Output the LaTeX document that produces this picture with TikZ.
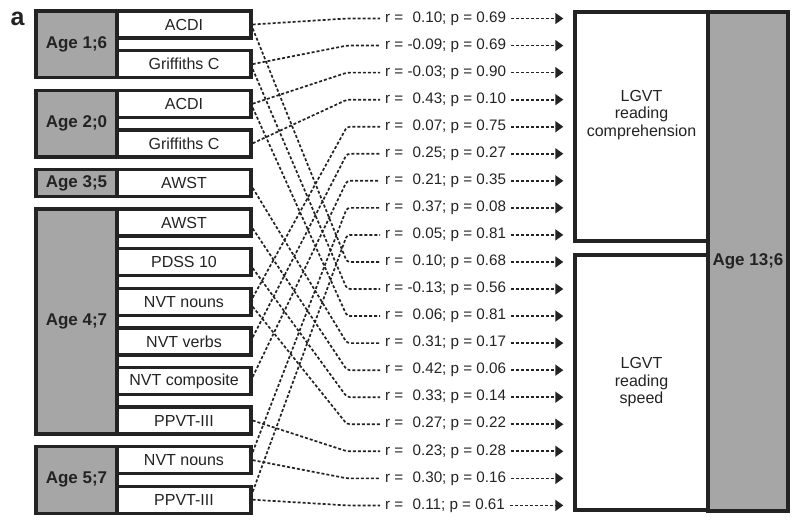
\documentclass[tikz,border=0pt]{standalone}
\usepackage{fontspec}
\setmainfont{Liberation Sans}
\usetikzlibrary{arrows.meta}

\definecolor{ink}{RGB}{35,35,35}
\definecolor{agegray}{RGB}{166,166,166}
\newcommand{\pz}{\hphantom{-}}

\tikzset{
  agebox/.style={draw=ink, line width=3.4pt, fill=agegray, inner sep=0pt,
    text=ink, font=\fontsize{17}{19}\selectfont\bfseries},
  testbox/.style={draw=ink, line width=3.4pt, fill=white, inner sep=0pt,
    minimum width=134pt, minimum height=27pt, text=ink, font=\fontsize{16}{18}\selectfont},
  corr/.style={inner sep=2pt, text=ink, font=\fontsize{15.2}{17}\selectfont},
  link/.style={draw=ink, line width=1.7pt, dash pattern=on 3pt off 2pt, rounded corners=3pt},
}

\begin{document}
\begin{tikzpicture}[x=1pt,y=-1pt]
\useasboundingbox (0,0) rectangle (800,525);

\node[font=\fontsize{25}{25}\selectfont\bfseries, text=ink, inner sep=0pt] (panel) at (17.5,18.5) {a};

% age groups on the left
\foreach \lab/\a/\b in {Age 1;6/1/2, Age 2;0/3/4, Age 3;5/5/5, Age 4;7/6/11, Age 5;7/12/13} {
\pgfmathsetmacro\yc{24.5+39.6*((\a+\b)/2-1)}
\pgfmathsetmacro\hh{39.6*(\b-\a)+27}
\node[agebox, minimum width=81pt, minimum height=\hh pt] (g\a) at (76.5,\yc) {\lab};
}

% tests
\foreach \lab [count=\k] in {ACDI, Griffiths C, ACDI, Griffiths C, AWST, AWST, PDSS 10,
    NVT nouns, NVT verbs, NVT composite, PPVT-III, NVT nouns, PPVT-III} {
\node[testbox] (m\k) at (184, {24.5+39.6*(\k-1)}) {\lab};
}

% outcome at 13;6
\node[agebox, minimum width=80pt, minimum height=499pt] (old) at (748,261.5) {Age 13;6};
\node[testbox, minimum width=133pt, minimum height=229pt] (comp) at (641.5,126.5) {};
\node[testbox, minimum width=133pt, minimum height=255pt] (speed) at (641.5,382.5) {};
\node[align=center, text=ink, font=\fontsize{16}{17.5}\selectfont] (compText) at (641.5,115) {LGVT\\reading\\comprehension};
\node[align=center, text=ink, font=\fontsize{16}{17.5}\selectfont] (speedText) at (speed.center) {LGVT\\reading\\speed};

% correlations
\foreach \rv/\pv/\src/\dy/\tgt [count=\i] in {
  \pz0.10/0.69/1/0/comp, -0.09/0.69/2/0/comp, -0.03/0.90/3/0/comp, \pz0.43/0.10/4/0/comp,
  \pz0.07/0.75/8/4/comp, \pz0.25/0.27/9/4/comp, \pz0.21/0.35/10/4/comp, \pz0.37/0.08/12/8/comp,
  \pz0.05/0.81/13/8/comp,
  \pz0.10/0.68/1/-4/speed, -0.13/0.56/2/-5/speed, \pz0.06/0.81/3/-4/speed, \pz0.31/0.17/5/-5/speed,
  \pz0.42/0.06/6/-6/speed, \pz0.33/0.14/7/-6/speed, \pz0.27/0.22/8/-5/speed, \pz0.23/0.28/11/0/speed,
  \pz0.30/0.16/12/0/speed, \pz0.11/0.61/13/0/speed} {
\node[corr, anchor=west] (r\i) at (383, {18.5+27.05*(\i-1)}) {r = \rv; p = \pv};
\draw[link] ([yshift=\dy pt]m\src.east) -- ([xshift=-36pt]r\i.west) -- ([xshift=-3pt]r\i.west);
\draw[link, -{Triangle[length=8pt,width=11pt]}, shorten >=10pt] ([xshift=3pt]r\i.east) -- (r\i.east -| \tgt.west);
}

\end{tikzpicture}
\end{document}
